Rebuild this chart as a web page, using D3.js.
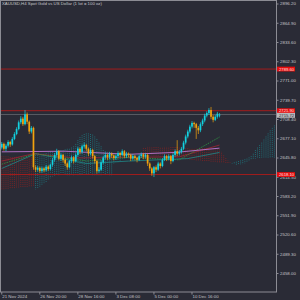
<!DOCTYPE html>
<html>
<head>
<meta charset="utf-8">
<script src="https://cdn.jsdelivr.net/npm/d3@7"></script>
<style>
body { margin: 0; background: #2a2b36; }
svg { display: block; }
</style>
</head>
<body>
<div id="chart"></div>
<script>
// XAUUSD H4 candles
var opens = [2662,2668,2660,2665,2671,2667,2676,2684,2692,2703,2709,2700,2716,2704,2688,2694,2630,2626,2629,2624,
  2628,2625,2631,2627,2634,2642,2650,2656,2644,2650,2642,2636,2630,2640,2646,2640,2650,2660,2655,2664,
  2666,2660,2652,2658,2648,2640,2624,2626,2638,2646,2650,2646,2652,2649,2645,2648,2653,2650,2656,2648,
  2652,2650,2644,2648,2645,2642,2648,2651,2647,2650,2636,2628,2620,2630,2626,2636,2632,2642,2648,2644,
  2648,2640,2650,2656,2652,2655,2660,2670,2680,2688,2696,2702,2700,2694,2690,2700,2706,2714,2718,2723,
  2712,2707,2712,2714];
var highs = [2671,2670,2668,2674,2673,2679,2687,2695,2706,2713,2712,2723,2719,2706,2697,2696,2633,2632,2631,2631,
  2630,2634,2633,2636,2645,2653,2660,2658,2653,2652,2645,2638,2642,2649,2648,2653,2663,2662,2667,2670,
  2668,2662,2661,2660,2650,2642,2630,2641,2649,2654,2652,2655,2654,2651,2651,2656,2655,2659,2658,2655,
  2654,2652,2651,2650,2647,2651,2654,2653,2653,2652,2638,2630,2632,2633,2639,2638,2645,2651,2650,2651,
  2650,2653,2659,2674,2658,2663,2673,2683,2691,2699,2705,2704,2702,2697,2703,2709,2717,2721,2726,2728,
  2715,2715,2720,2718];
var lows = [2659,2657,2656,2662,2663,2665,2674,2682,2690,2700,2697,2698,2700,2684,2685,2626,2622,2623,2621,2621,
  2622,2623,2624,2625,2631,2639,2647,2641,2640,2638,2632,2626,2628,2637,2636,2638,2647,2651,2652,2661,
  2656,2648,2649,2644,2636,2620,2621,2624,2635,2643,2642,2643,2645,2641,2642,2645,2646,2648,2645,2645,
  2646,2640,2641,2641,2638,2640,2645,2643,2644,2632,2624,2616,2614,2622,2624,2628,2630,2640,2640,2641,
  2635,2638,2647,2648,2649,2652,2658,2667,2677,2685,2693,2694,2676,2684,2687,2697,2703,2711,2715,2708,
  2703,2705,2709,2711];
var closes = [2668,2660,2665,2671,2667,2676,2684,2692,2703,2709,2700,2716,2704,2688,2694,2630,2626,2629,2624,2628,
  2625,2631,2627,2634,2642,2650,2656,2644,2650,2642,2636,2630,2640,2646,2640,2650,2660,2655,2664,2666,
  2660,2652,2658,2648,2640,2624,2626,2638,2646,2650,2646,2652,2649,2645,2648,2653,2650,2656,2648,2652,
  2650,2644,2648,2645,2642,2648,2651,2647,2650,2636,2628,2620,2630,2626,2636,2632,2642,2648,2644,2648,
  2640,2650,2656,2652,2655,2660,2670,2680,2688,2696,2702,2700,2694,2690,2700,2706,2714,2718,2723,2712,
  2707,2712,2717,2715.7];

// Ichimoku cloud, 26 bars ahead of the last candle
var spanA = [2594,2594,2595,2595,2596,2596,2596,2597,2597,2598,2598,2598,2598,2599,2599,2600,
  2650,2650,2651,2652,2652,2653,2654,2655,2655,2656,2656,2657,2658,2658,2659,2660,2660,2662,2664,2668,
  2674,2679,2682,2684,2685,2685,2684,2683,2680,2676,2670,2664,
  2658,2656,2655,2654,2654,2653,2653,2653,2652,2652,2652,2651,2651,2651,
  2651,2650,2650,2650,2650,
  2650,2650,2649,2649,2649,2648,2648,2648,2647,2647,2646,2646,2646,2645,2645,2645,2645,2644,
  2644,2644,2643,2643,2642,2642,2642,2641,2641,2641,2640,2640,2640,2640,2639,2639,2639,2638,2638,
  2638,2638,2637,2637,2637,2637,
  2638,2639,2640,2641,2642,2643,2644,2646,2648,2652,
  2658,2662,2666,2670,2675,2680,2685,2690,2694,2698];
var spanB = [2648,2648,2648,2648,2648,2648,2647,2647,2647,2647,2647,2646,2646,2646,2646,2646,
  2594,2596,2598,2600,2603,2606,2609,2612,2615,2616,2617,2617,2617,2617,2617,2617,2617,2617,2617,2617,
  2617,2617,2617,2617,2617,2617,2617,2617,2617,2617,2617,2617,
  2617,2617,2617,2617,2617,2636,2637,2638,2640,2642,2643,2644,2644,2645,
  2645,2646,2646,2647,2647,
  2663,2663,2663,2663,2663,2663,2663,2663,2663,2663,2663,2663,2663,2663,2663,2663,2663,2663,
  2661,2661,2661,2661,2661,2661,2661,2661,2661,2661,2661,2661,2661,2661,2661,2661,2661,2661,2661,
  2655,2650,2645,2641,2638,2636,
  2635,2634,2634,2634,2635,2636,2638,2640,2642,2643,
  2644,2645,2645,2645,2645,2645,2645,2645,2645,2645];

// indicator lines as [bar, price]
var maLine = [[0,2655],[30,2656],[60,2651],[82,2654],[103,2661]];
var tenkan = [[0,2640],[15,2652],[35,2645],[60,2646],[84,2647],[103,2666]];
var kijun = [[0,2628],[16,2652],[40,2636],[60,2640],[88,2644],[103,2654]];
var greenLine = [[0,2635],[16,2652],[40,2640],[60,2646],[84,2642],[103,2679]];

var levels = [2789.6, 2721.9, 2618.1];
var bid = 2715.72;

var priceTicks = [2458.00,2489.30,2520.60,2551.90,2583.20,2614.50,2645.80,2677.10,
  2708.40,2739.70,2771.00,2802.30,2833.60,2864.90,2896.20];
var timeTickBars = [0, 18, 36, 54, 72, 90];
var timeTickLabels = ["21 Nov 2024","26 Nov 20:00","28 Nov 16:00","3 Dec 08:00","5 Dec 00:00","10 Dec 16:00"];

var totalBars = 130;

// layout
var width = 300, height = 300;
var plotRight = 276, plotBottom = 292;

var svg = d3.select("#chart").append("svg")
  .attr("width", width)
  .attr("height", height)
  .style("font-family", "'Liberation Sans', Arial, sans-serif");

svg.append("rect").attr("width", width).attr("height", height).attr("fill", "#2a2b36");

svg.append("clipPath").attr("id", "plotclip")
  .append("rect").attr("x", 1).attr("y", 1).attr("width", plotRight - 1).attr("height", plotBottom - 1);

var x = d3.scaleBand()
  .domain(d3.range(totalBars))
  .range([0.5, 275.7])
  .padding(0.2);
var cx = function(i) { return x(i) + x.bandwidth() / 2; };

var y = d3.scaleLinear()
  .domain([2458, 2896.2])
  .range([273, 3.5]);

var plot = svg.append("g").attr("clip-path", "url(#plotclip)");

// cloud hatch
plot.append("g")
  .selectAll("line")
  .data(spanA)
  .enter().append("line")
    .attr("x1", function(d, i) { return cx(i); })
    .attr("x2", function(d, i) { return cx(i); })
    .attr("y1", function(d) { return y(d); })
    .attr("y2", function(d, i) { return y(spanB[i]); })
    .attr("stroke", function(d, i) { return spanB[i] > d ? "#8a2222" : "#1d7c84"; })
    .attr("stroke-width", 0.8)
    .attr("stroke-dasharray", "1,1");

// indicator lines
var line = d3.line()
  .x(function(d) { return cx(d[0]); })
  .y(function(d) { return y(d[1]); });

plot.append("path").datum(kijun).attr("d", line)
  .attr("fill", "none").attr("stroke", "#1f8a8a").attr("stroke-width", 0.8);
plot.append("path").datum(tenkan).attr("d", line)
  .attr("fill", "none").attr("stroke", "#a02434").attr("stroke-width", 0.8);
plot.append("path").datum(greenLine).attr("d", line)
  .attr("fill", "none").attr("stroke", "#2f9a42").attr("stroke-width", 0.8)
  .attr("stroke-dasharray", "1.5,1");
plot.append("path").datum(maLine).attr("d", line)
  .attr("fill", "none").attr("stroke", "#b070c4").attr("stroke-width", 1);

// horizontal levels
plot.append("g")
  .selectAll("line")
  .data(levels)
  .enter().append("line")
    .attr("x1", 0).attr("x2", plotRight)
    .attr("y1", function(d) { return y(d); })
    .attr("y2", function(d) { return y(d); })
    .attr("stroke", "#a31c1c")
    .attr("stroke-width", 1);

plot.append("line")
  .attr("x1", 0).attr("x2", plotRight)
  .attr("y1", y(bid)).attr("y2", y(bid))
  .attr("stroke", "#5a5b63").attr("stroke-width", 1);

// candles
var candle = plot.append("g")
  .selectAll("g")
  .data(closes)
  .enter().append("g")
    .attr("class", "candle");

var colorOf = function(i) { return closes[i] >= opens[i] ? "#12d2e0" : "#f2a20e"; };

candle.append("line")
  .attr("x1", function(d, i) { return cx(i); })
  .attr("x2", function(d, i) { return cx(i); })
  .attr("y1", function(d, i) { return y(highs[i]); })
  .attr("y2", function(d, i) { return y(lows[i]); })
  .attr("stroke", function(d, i) { return colorOf(i); })
  .attr("stroke-width", 0.7);

candle.append("rect")
  .attr("x", function(d, i) { return x(i); })
  .attr("width", x.bandwidth())
  .attr("y", function(d, i) { return y(Math.max(opens[i], closes[i])); })
  .attr("height", function(d, i) { return Math.max(0.6, Math.abs(y(opens[i]) - y(closes[i]))); })
  .attr("fill", function(d, i) { return colorOf(i); });

// frame
svg.append("rect")
  .attr("x", 0.5).attr("y", 0.5)
  .attr("width", plotRight)
  .attr("height", plotBottom - 0.5)
  .attr("fill", "none")
  .attr("stroke", "#8c8c94")
  .attr("stroke-width", 1);

// price axis
var yAxis = svg.append("g")
  .attr("transform", "translate(" + (plotRight + 0.5) + ",0)")
  .call(d3.axisRight(y).tickValues(priceTicks).tickSize(2).tickPadding(1.5)
    .tickFormat(function(d) { return d.toFixed(2); }));
yAxis.select(".domain").remove();
yAxis.selectAll("line").attr("stroke", "#8c8c94");
yAxis.selectAll("text").attr("fill", "#c4c4c8").attr("font-size", "4.4px")
  .attr("font-family", "'Liberation Sans', Arial, sans-serif");

// time axis
var xAxis = svg.append("g")
  .attr("transform", "translate(0," + plotBottom + ")")
  .call(d3.axisBottom(x).tickValues(timeTickBars).tickSize(2.5).tickPadding(0.5)
    .tickFormat(function(d, i) { return timeTickLabels[i]; }));
xAxis.select(".domain").remove();
xAxis.selectAll("line").attr("stroke", "#8c8c94");
xAxis.selectAll("text").attr("fill", "#c4c4c8").attr("font-size", "4.4px")
  .attr("font-family", "'Liberation Sans', Arial, sans-serif")
  .attr("text-anchor", "start").attr("x", 0.5);

// level labels on the price axis
var tags = svg.append("g")
  .selectAll("g")
  .data(levels)
  .enter().append("g")
    .attr("transform", function(d) { return "translate(" + (plotRight + 1) + "," + y(d) + ")"; });
tags.append("rect")
  .attr("x", 0).attr("y", -2.4).attr("width", 18).attr("height", 4.8)
  .attr("fill", "#e80c0c");
tags.append("text")
  .attr("x", 2).attr("dy", "0.35em")
  .attr("font-size", "4.2px").attr("fill", "#ffe0e0")
  .text(function(d) { return d.toFixed(2); });

var bidTag = svg.append("g")
  .attr("transform", "translate(" + (plotRight + 1) + "," + (y(bid) + 0.8) + ")");
bidTag.append("rect")
  .attr("x", 0).attr("y", -2.5).attr("width", 18).attr("height", 5)
  .attr("fill", "#b8b8bc");
bidTag.append("text")
  .attr("x", 2).attr("dy", "0.35em")
  .attr("font-size", "4.2px").attr("fill", "#2a2b36")
  .text(bid.toFixed(2));

// title
svg.append("text")
  .attr("x", 2).attr("y", 5.2)
  .attr("font-size", "4.3px").attr("fill", "#c4c4c8")
  .text("XAUUSD,H4  Spot Gold vs US Dollar (1 lot = 100 oz)");
</script>
</body>
</html>
